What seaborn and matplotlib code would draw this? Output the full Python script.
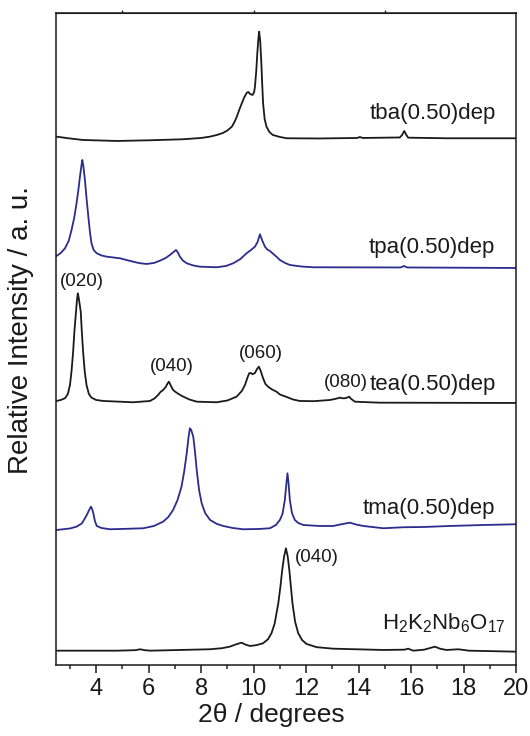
import numpy as np
import pandas as pd
import matplotlib
matplotlib.use('Agg')
import matplotlib.pyplot as plt
import seaborn as sns

# XRD patterns (2theta in degrees, intensity in a.u.)
tba_x = [2.49, 3.0, 3.49, 4.79, 6.05, 7.30, 8.0, 8.33, 8.6, 8.83, 9.0, 9.17, 9.27, 9.36, 9.45,
         9.55, 9.64, 9.74, 9.80, 9.86, 9.96, 10.02, 10.05, 10.10, 10.14, 10.18, 10.21, 10.25,
         10.29, 10.33, 10.36, 10.42, 10.49, 10.6, 10.73, 11.0, 11.26, 12.5, 13.95, 14.05,
         14.15, 15.57, 15.66, 15.74, 15.82, 15.89, 17.35, 20.0]
tba_y = [4.3, 2.5, 1.0, 0.0, 0.7, 1.7, 3.0, 4.3, 6.0, 8.0, 10.5, 14.3, 19.0, 24.3, 31.0,
         37.7, 43.5, 48.3, 49.0, 47.0, 46.0, 49.0, 54.3, 70.0, 87.7, 102.0, 109.3, 100.0,
         80.0, 55.0, 37.7, 22.0, 14.3, 9.0, 6.0, 4.0, 2.7, 2.5, 3.0, 4.0,
         3.0, 3.5, 6.0, 10.0, 6.0, 3.3, 2.7, 2.7]

tpa_x = [2.49, 2.65, 2.81, 2.95, 3.06, 3.16, 3.25, 3.32, 3.38, 3.44, 3.47, 3.51, 3.57, 3.63,
         3.70, 3.76, 3.82, 3.90, 4.02, 4.20, 4.40, 4.65, 4.90, 5.15, 5.41, 5.65, 5.92, 6.2,
         6.43, 6.65, 6.81, 6.95, 7.04, 7.10, 7.19, 7.30, 7.45, 7.7, 7.95, 8.59, 8.95, 9.22,
         9.5, 9.73, 9.9, 10.05, 10.15, 10.24, 10.32, 10.43, 10.52, 10.62, 10.75, 10.87, 11.0,
         11.2, 11.38, 11.8, 12.27, 15.6, 15.73, 15.85, 20.0]
tpa_y = [12.0, 15.0, 19.7, 27.0, 38.0, 50.0, 64.7, 78.0, 91.3, 103.0, 108.0, 102.0, 88.0, 70.0,
         51.3, 36.0, 24.7, 18.0, 14.7, 12.5, 11.3, 10.5, 9.7, 8.0, 6.3, 4.8, 4.0, 5.0,
         7.3, 10.0, 13.0, 16.0, 18.0, 16.0, 11.3, 7.5, 4.7, 2.5, 1.3, 0.7, 2.0, 4.7,
         9.0, 14.7, 18.0, 21.3, 26.0, 33.7, 28.0, 21.3, 18.5, 17.0, 14.0, 11.3, 8.0,
         5.0, 3.0, 1.5, 0.7, 0.5, 2.0, 0.5, 0.0]

tea_x = [2.49, 2.65, 2.81, 2.92, 3.00, 3.06, 3.12, 3.17, 3.23, 3.27, 3.30, 3.34, 3.41, 3.45,
         3.50, 3.56, 3.63, 3.72, 3.82, 4.0, 4.27, 5.41, 6.05, 6.22, 6.36, 6.45, 6.55, 6.65,
         6.72, 6.77, 6.85, 6.93, 7.05, 7.2, 7.32, 7.55, 7.83, 8.59, 9.0, 9.35, 9.55, 9.67,
         9.76, 9.83, 9.90, 9.96, 10.05, 10.13, 10.20, 10.27, 10.36, 10.45, 10.55, 10.70, 10.87,
         11.0, 11.26, 11.5, 11.76, 12.3, 12.91, 13.1, 13.29, 13.38, 13.48, 13.58, 13.64, 13.72,
         13.86, 14.3, 14.81, 20.0]
tea_y = [2.0, 3.0, 4.7, 9.0, 18.0, 32.0, 51.3, 72.0, 91.3, 104.0, 109.7, 104.0, 91.3, 72.0,
         51.3, 32.0, 18.0, 9.0, 5.3, 3.0, 2.0, 0.7, 2.0, 4.5, 8.0, 11.0, 13.0, 16.0,
         19.5, 21.3, 17.0, 13.0, 10.5, 8.0, 6.3, 3.5, 1.3, 0.7, 2.5, 6.3, 12.0, 18.0,
         25.0, 29.7, 30.0, 28.7, 30.0, 34.0, 36.3, 32.0, 24.7, 19.0, 16.3, 13.5, 11.3,
         8.5, 6.0, 3.5, 2.0, 1.8, 3.0, 4.0, 5.3, 4.7, 4.7, 5.5, 6.3, 4.0,
         1.3, 0.8, 0.3, 0.0]

tma_x = [2.49, 3.0, 3.25, 3.45, 3.57, 3.66, 3.73, 3.80, 3.85, 3.89, 3.95, 4.02, 4.2, 4.52,
         5.2, 5.79, 6.2, 6.55, 6.75, 6.93, 7.1, 7.25, 7.35, 7.45, 7.52, 7.57, 7.62, 7.70,
         7.77, 7.83, 7.92, 8.02, 8.15, 8.34, 8.6, 8.84, 9.2, 9.60, 10.2, 10.62, 10.85, 11.00,
         11.10, 11.19, 11.25, 11.29, 11.33, 11.38, 11.46, 11.57, 11.7, 11.89, 12.5, 13.03, 13.4,
         13.67, 13.9, 14.18, 14.94, 15.70, 16.5, 17.48, 18.8, 20.0]
tma_y = [0.0, 1.5, 3.3, 6.5, 11.7, 16.0, 20.0, 23.3, 20.5, 16.7, 9.0, 4.0, 2.0, 0.7,
         1.2, 1.7, 4.0, 8.3, 13.0, 20.0, 30.0, 43.3, 58.0, 76.7, 93.0, 101.7, 100.0, 93.3,
         77.0, 60.0, 40.0, 26.7, 17.0, 10.0, 6.0, 4.0, 2.0, 0.7, 1.0, 1.7, 5.0, 10.0,
         16.0, 30.0, 47.0, 56.7, 47.0, 30.0, 17.0, 10.0, 7.0, 5.0, 4.0, 4.0, 6.0,
         7.3, 5.5, 4.0, 1.7, 2.7, 3.0, 4.0, 5.0, 5.7]

h2k2_x = [2.49, 4.78, 5.5, 5.67, 5.85, 6.05, 8.33, 8.8, 9.09, 9.35, 9.54, 9.70, 9.86, 10.1,
          10.36, 10.55, 10.68, 10.80, 10.94, 11.02, 11.09, 11.16, 11.23, 11.30, 11.36, 11.42,
          11.48, 11.58, 11.70, 11.85, 12.02, 12.4, 13.03, 14.94, 15.75, 15.89, 16.08, 16.5,
          16.91, 17.1, 17.35, 17.80, 18.2, 20.0]
h2k2_y = [1.0, 1.0, 1.5, 2.4, 1.5, 1.0, 2.4, 3.5, 5.0, 7.5, 9.0, 7.0, 5.7, 6.5,
          8.4, 12.5, 18.4, 28.0, 48.4, 65.0, 81.7, 95.0, 103.4, 95.0, 81.7, 65.0,
          48.4, 30.0, 18.4, 11.5, 7.7, 4.5, 3.0, 1.7, 2.0, 3.0, 1.0, 2.0,
          5.0, 3.0, 1.7, 2.4, 1.0, 0.0]

names = ['tba', 'tpa', 'tea', 'tma', 'H2K2Nb6O17']
offsets = [524.3, 397.3, 262.3, 135.3, 13.6]
colors = ['#1a1a1a', '#2b2c8e', '#1a1a1a', '#2b2c8e', '#1a1a1a']

rows = []
for name, xs, ys, off in zip(names, [tba_x, tpa_x, tea_x, tma_x, h2k2_x],
                             [tba_y, tpa_y, tea_y, tma_y, h2k2_y], offsets):
    for a, b in zip(xs, ys):
        rows.append({'sample': name, 'two_theta': a, 'intensity': b + off})
df = pd.DataFrame(rows)

sns.set_style('ticks')
plt.rcParams['font.family'] = ['Liberation Sans', 'DejaVu Sans']
plt.rcParams['mathtext.fontset'] = 'custom'
plt.rcParams['mathtext.rm'] = 'Liberation Sans'
plt.rcParams['mathtext.it'] = 'Liberation Sans'

fig = plt.figure(figsize=(5.3, 7.36), dpi=100)
ax = fig.add_axes([0.1053, 0.0961, 0.8683, 0.8856])

sns.lineplot(data=df, x='two_theta', y='intensity', hue='sample', palette=colors,
             hue_order=names, sort=False, estimator=None, linewidth=1.3, legend=False, ax=ax)

ax.set_xlim(2.46, 20.0)
ax.set_ylim(0, 651.8)
ax.set_xticks(np.arange(4, 21, 2))
ax.set_xticks(np.arange(3, 20, 2), minor=True)
ax.set_yticks([])
ax.tick_params(axis='x', which='major', direction='out', length=5.5, width=1.1,
               labelsize=17, pad=4, colors='#1a1a1a')
ax.tick_params(axis='x', which='minor', direction='out', length=2.8, width=1.1)
for s in ax.spines.values():
    s.set_linewidth(1.1)
    s.set_color('#1a1a1a')

top = ax.secondary_xaxis('top')
top.set_xticks([5, 10, 15])
top.tick_params(direction='out', length=2.5, width=1.0, labeltop=False)
top.set_xticklabels([])

ax.set_xlabel('2\u03b8 / degrees', fontsize=19, color='#1a1a1a')
ax.set_ylabel('Relative Intensity / a. u.', fontsize=20, color='#1a1a1a')
ax.xaxis.set_label_coords(0.468, -0.058)
ax.yaxis.set_label_coords(-0.048, 0.515)

lab = dict(fontsize=16, color='#1a1a1a', ha='right', va='center')
ax.text(19.23, 552, 'tba(0.50)dep', **lab)
ax.text(19.19, 418, 'tpa(0.50)dep', **lab)
ax.text(19.23, 281, 'tea(0.50)dep', **lab)
ax.text(19.19, 157, 'tma(0.50)dep', **lab)
ax.text(19.6, 42, r'H$_2$K$_2$Nb$_6$O$_{17}$', **lab)

hkl = dict(fontsize=13.5, color='#1a1a1a', ha='center', va='center')
ax.text(3.46, 384, '(020)', **hkl)
ax.text(6.90, 299, '(040)', **hkl)
ax.text(10.28, 312, '(060)', **hkl)
ax.text(13.5, 283, '(080)', **hkl)
ax.text(12.41, 108, '(040)', **hkl)

fig.savefig('out.png', dpi=100)
